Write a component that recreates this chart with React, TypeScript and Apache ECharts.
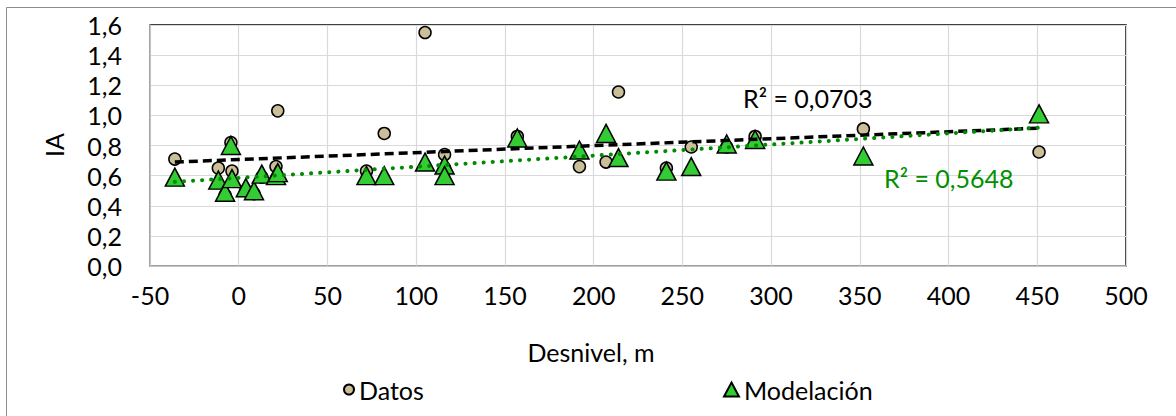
import React, { useEffect, useRef } from "react";
import * as echarts from "echarts";

// Desnivel (m) shared by both series
const desnivel = [-36, -11.5, -7.7, -4.4, -3.8, 4, 8.6, 13, 21, 22, 72, 82, 105, 116, 116, 157, 192, 207, 214, 241, 255, 275, 291, 352, 451];
// IA observed
const datos = [0.71, 0.65, 0.47, 0.82, 0.63, 0.5, 0.48, 0.59, 0.66, 1.03, 0.63, 0.88, 1.55, 0.74, 0.65, 0.86, 0.66, 0.69, 1.155, 0.65, 0.79, 0.79, 0.86, 0.91, 0.757];
// IA modelled
const modelacion = [0.59, 0.57, 0.49, 0.8, 0.58, 0.52, 0.5, 0.61, 0.6, 0.62, 0.6, 0.6, 0.69, 0.67, 0.6, 0.85, 0.77, 0.88, 0.72, 0.63, 0.66, 0.81, 0.84, 0.73, 1.01];

const seriesNames = ["Datos", "Modelación"];
const r2Labels = ["R² = 0,0703", "R² = 0,5648"];
const xAxisTitle = "Desnivel, m";
const yAxisTitle = "IA";

const FONT = 'Lato, "Open Sans", "DejaVu Sans", sans-serif';

function linearTrend(xs: number[], ys: number[]): number[][] {
  const n = xs.length;
  const mx = xs.reduce((s, v) => s + v, 0) / n;
  const my = ys.reduce((s, v) => s + v, 0) / n;
  let sxy = 0;
  let sxx = 0;
  for (let i = 0; i < n; i++) {
    sxy += (xs[i] - mx) * (ys[i] - my);
    sxx += (xs[i] - mx) * (xs[i] - mx);
  }
  const b = sxy / sxx;
  const a = my - b * mx;
  const x0 = Math.min(...xs);
  const x1 = Math.max(...xs);
  return [
    [x0, a + b * x0],
    [x1, a + b * x1],
  ];
}

export default function App() {
  const ref = useRef<HTMLDivElement>(null);

  useEffect(() => {
    document.body.style.margin = "0";
    if (!ref.current) return;
    const chart = echarts.init(ref.current, undefined, { renderer: "svg" });

    const datosPts = desnivel.map((x, i) => [x, datos[i]]);
    const modelPts = desnivel.map((x, i) => [x, modelacion[i]]);

    const labelStyle = { fontSize: 25, color: "#000", fontFamily: FONT };

    const option: any = {
      animation: false,
      backgroundColor: "#fff",
      textStyle: { fontFamily: FONT },
      grid: {
        left: 150,
        right: 50,
        top: 25,
        bottom: 150,
        show: true,
        borderColor: "#000",
        borderWidth: 1.5,
        backgroundColor: "transparent",
      },
      xAxis: {
        type: "value",
        min: -50,
        max: 500,
        interval: 50,
        axisLine: { show: true, onZero: false, lineStyle: { color: "#BFBFBF", width: 1.5 } },
        axisTick: { show: false },
        splitLine: { show: true, lineStyle: { color: "#D9D9D9", width: 1.2 } },
        axisLabel: { ...labelStyle, margin: 16 },
      },
      yAxis: {
        type: "value",
        min: 0,
        max: 1.6,
        interval: 0.2,
        axisLine: { show: true, onZero: false, lineStyle: { color: "#BFBFBF", width: 1.5 } },
        axisTick: { show: false },
        splitLine: { show: true, lineStyle: { color: "#D9D9D9", width: 1.2 } },
        axisLabel: {
          ...labelStyle,
          margin: 28,
          formatter: (v: number) => v.toFixed(1).replace(".", ","),
        },
      },
      legend: [
        {
          data: [seriesNames[0]],
          left: 338,
          top: 372,
          icon: "circle",
          itemWidth: 10,
          itemHeight: 10,
          itemGap: 5,
          textStyle: labelStyle,
        },
        {
          data: [seriesNames[1]],
          left: 718,
          top: 372,
          icon: "triangle",
          itemWidth: 15,
          itemHeight: 14,
          textStyle: labelStyle,
        },
      ],
      series: [
        {
          name: seriesNames[0],
          type: "scatter",
          data: datosPts,
          symbol: "circle",
          symbolSize: 12,
          itemStyle: { color: "#CABF98", borderColor: "#000", borderWidth: 1.5, opacity: 1 },
          z: 2,
        },
        {
          name: seriesNames[1],
          type: "scatter",
          data: modelPts,
          symbol: "triangle",
          symbolSize: [19, 18],
          itemStyle: { color: "#33CC33", borderColor: "#000", borderWidth: 1.5, opacity: 1 },
          z: 3,
        },
        {
          name: "trendDatos",
          type: "line",
          data: linearTrend(desnivel, datos),
          showSymbol: false,
          symbol: "none",
          silent: true,
          lineStyle: { color: "#000", width: 3.5, type: [9, 5] },
          z: 4,
        },
        {
          name: "trendModel",
          type: "line",
          data: linearTrend(desnivel, modelacion),
          showSymbol: false,
          symbol: "none",
          silent: true,
          lineStyle: { color: "#008A00", width: 4, type: [0.1, 9], cap: "round" },
          z: 5,
        },
      ],
      graphic: [
        {
          type: "rect",
          silent: true,
          shape: { x: 6.5, y: 7.5, width: 1400, height: 700 },
          style: { fill: "none", stroke: "#8C8C8C", lineWidth: 1 },
          z: 0,
        },
        {
          type: "text",
          x: 591,
          y: 352,
          style: {
            text: xAxisTitle,
            fontSize: 25,
            fontFamily: FONT,
            fill: "#000",
            align: "center",
            verticalAlign: "middle",
            textAlign: "center",
            textVerticalAlign: "middle",
          },
        },
        {
          type: "text",
          x: 54,
          y: 145,
          rotation: Math.PI / 2,
          style: {
            text: yAxisTitle,
            fontSize: 25,
            fontFamily: FONT,
            fill: "#000",
            align: "center",
            verticalAlign: "middle",
            textAlign: "center",
            textVerticalAlign: "middle",
          },
        },
        {
          type: "text",
          x: 743,
          y: 98,
          z: 10,
          style: {
            text: r2Labels[0],
            fontSize: 25,
            fontFamily: FONT,
            fill: "#000",
            align: "left",
            verticalAlign: "middle",
            textAlign: "left",
            textVerticalAlign: "middle",
          },
        },
        {
          type: "text",
          x: 884,
          y: 178,
          z: 10,
          style: {
            text: r2Labels[1],
            fontSize: 25,
            fontFamily: FONT,
            fill: "#009000",
            align: "left",
            verticalAlign: "middle",
            textAlign: "left",
            textVerticalAlign: "middle",
          },
        },
      ],
    };

    chart.setOption(option);
    return () => chart.dispose();
  }, []);

  return <div ref={ref} style={{ width: 1176, height: 416 }} />;
}
